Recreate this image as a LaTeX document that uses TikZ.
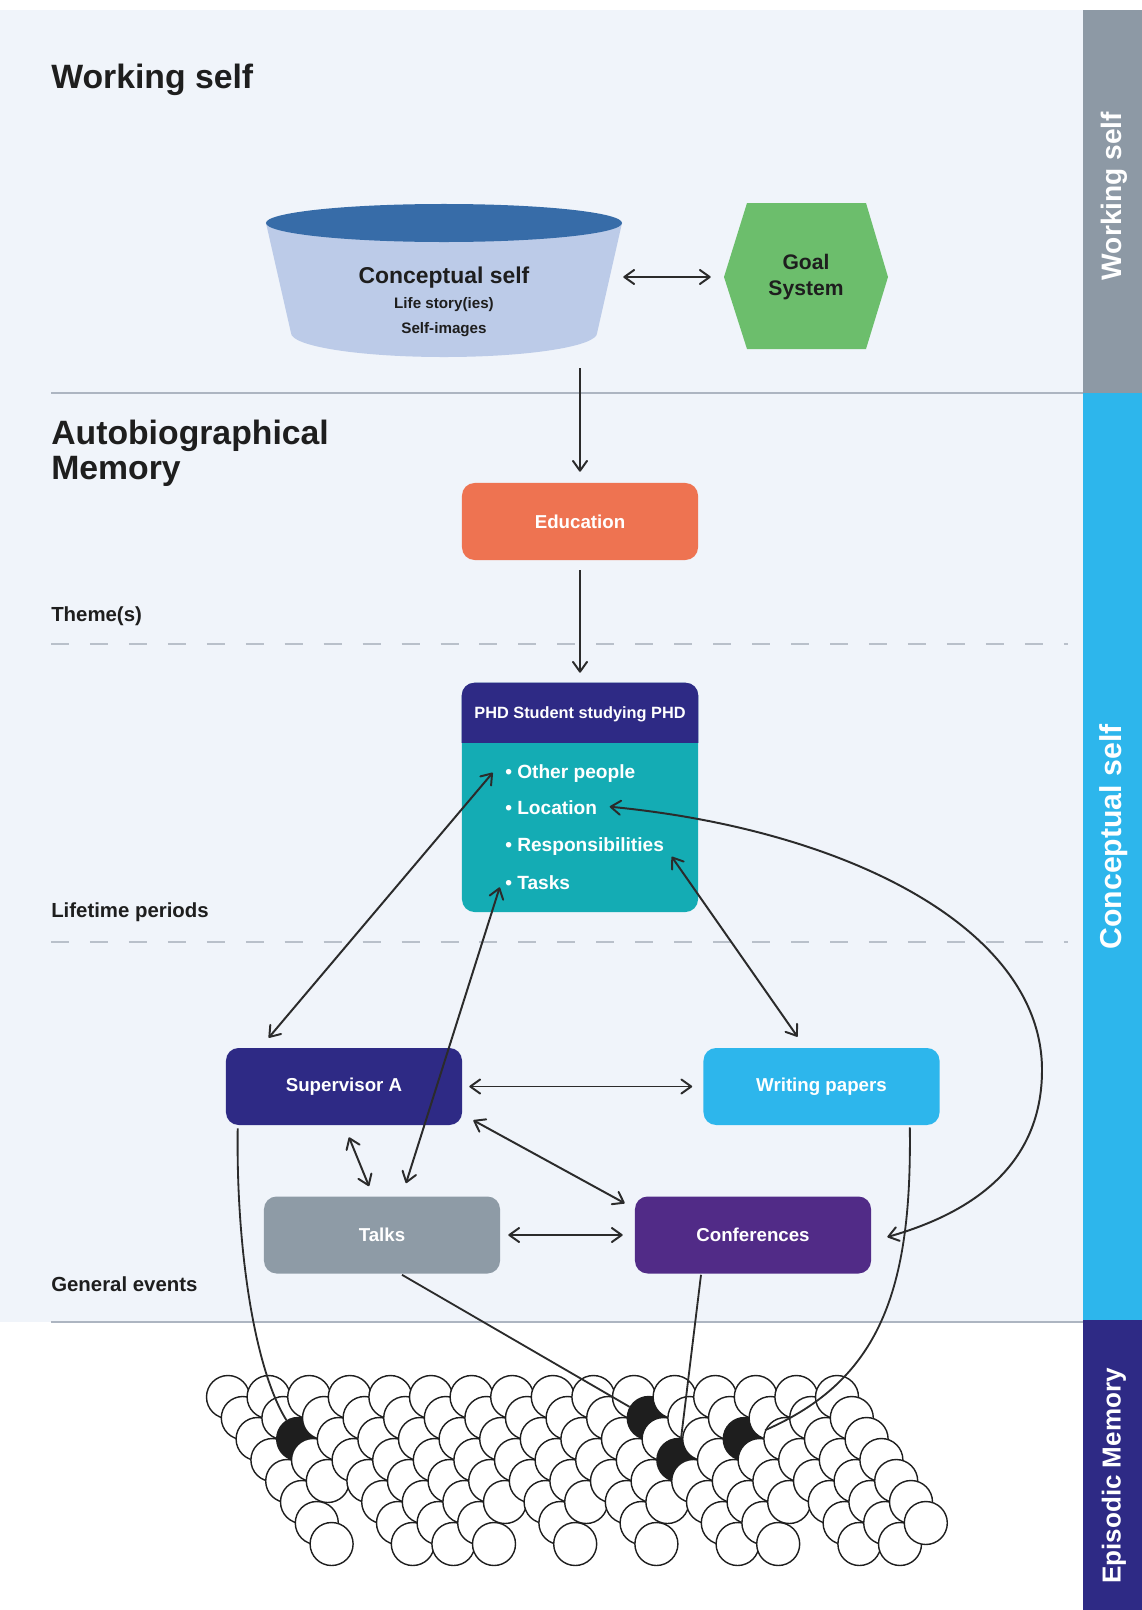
\documentclass[tikz,border=0pt]{standalone}
\usepackage{fontspec}
\setmainfont{Liberation Sans}
\usetikzlibrary{arrows.meta,calc,positioning}
\definecolor{ink}{HTML}{1E1E1E}
\definecolor{wire}{HTML}{2B2B2B}
\definecolor{bgblue}{HTML}{F0F4FA}
\definecolor{linegray}{HTML}{ADB5C1}
\definecolor{dashgray}{HTML}{B9C0CA}
\definecolor{sidegray}{HTML}{8D99A5}
\definecolor{cyanc}{HTML}{2DB6EC}
\definecolor{navyc}{HTML}{2E2A85}
\definecolor{purplec}{HTML}{512B87}
\definecolor{grayc}{HTML}{8E9BA6}
\definecolor{tealc}{HTML}{14ACB4}
\definecolor{coral}{HTML}{EE7351}
\definecolor{cyltop}{HTML}{376CA8}
\definecolor{cylbody}{HTML}{BCCBE8}
\definecolor{goalgreen}{HTML}{6CBE6C}

\begin{document}
\begin{tikzpicture}[x=0.025cm,y=-0.025cm,
  >={Straight Barb[length=7pt,width=10pt,round]},
  arr/.style={line width=1.4pt,draw=wire,->},
  biarr/.style={line width=1.4pt,draw=wire,<->},
  link/.style={line width=1.3pt,draw=wire},
  box/.style={rectangle,rounded corners=9pt,minimum width=5.9cm,minimum height=1.925cm,text=white,font=\fontsize{13.3}{13.3}\selectfont\bfseries},
  heading/.style={anchor=base west,inner sep=0pt,text=ink,font=\fontsize{24}{24}\selectfont\bfseries},
  rowlabel/.style={anchor=base west,inner sep=0pt,text=ink,font=\fontsize{14.5}{14.5}\selectfont\bfseries},
  bulletitem/.style={anchor=base west,inner sep=0pt,text=white,font=\fontsize{13.6}{13.6}\selectfont\bfseries},
  band/.style={rotate=90,inner sep=0pt,text=white},
  egg/.style={circle,draw=ink,line width=1pt,minimum size=1.075cm,inner sep=0pt}]
\useasboundingbox (0,0) rectangle (1142,1610);
\fill[bgblue] (0,10) rectangle (1083,1322);
\fill[sidegray] (1083,10) rectangle (1142,393);
\fill[cyanc] (1083,393) rectangle (1142,1320);
\fill[navyc] (1083,1320) rectangle (1142,1610);
\node[band,font=\fontsize{20}{20}\selectfont\bfseries] (bandws) at (1114,196) {Working self};
\node[band,font=\fontsize{21.5}{21.5}\selectfont\bfseries] (bandcs) at (1114,837) {Conceptual self};
\node[band,font=\fontsize{18.5}{18.5}\selectfont\bfseries] (bandem) at (1114,1476) {Episodic Memory};

\draw[line width=1.8pt,linegray] (51,393) -- (1083,393);
\draw[line width=1.8pt,linegray] (51,1322) -- (1083,1322);
\draw[line width=1.4pt,dashgray,dash pattern=on 12.8pt off 14.9pt] (51,644) -- (1068,644);
\draw[line width=1.4pt,dashgray,dash pattern=on 12.8pt off 14.9pt] (51,942) -- (1068,942);

\node[heading] (wstitle) at (51,89) {Working self};
\node[heading] (abtitle) at (51,444) {Autobiographical};
\node[heading] (abmem) at (51,479) {Memory};
\node[rowlabel] (themes) at (51,621) {Theme(s)};
\node[rowlabel] (periods) at (51,917) {Lifetime periods};
\node[rowlabel] (events) at (51,1291) {General events};

\fill[cylbody] (266,223) -- (291,333) arc[start angle=180,end angle=360,x radius=3.825cm,y radius=0.6cm] -- (622,223) -- cycle;
\fill[cyltop] (444,223) ellipse[x radius=4.45cm,y radius=0.475cm];
\node[minimum width=8.9cm,minimum height=3.85cm] (cself) at (444,277) {};
\node[anchor=base,text=ink,font=\fontsize{16.3}{16.3}\selectfont\bfseries] (cstitle) at (444,283) {Conceptual self};
\node[anchor=base,text=ink,font=\fontsize{10.8}{10.8}\selectfont\bfseries] (csstory) at (444,308) {Life story(ies)};
\node[anchor=base,text=ink,font=\fontsize{10.8}{10.8}\selectfont\bfseries] (csimages) at (444,333) {Self-images};

\fill[goalgreen] (724,277) -- (747,203) -- (866,203) -- (888,277) -- (866,349) -- (747,349) -- cycle;
\node[minimum width=4.1cm,minimum height=3.65cm,align=center,text=ink,font=\fontsize{15}{18.5}\selectfont\bfseries] (goal) at (806,277) {Goal\\System};

\node[box,fill=coral] (edu) at (580,521.5) {Education};

\node[box,fill=tealc,minimum height=5.725cm] (phd) at (580,797.5) {};
\begin{scope}
\clip (455,675) rectangle (705,742);
\fill[navyc,rounded corners=9pt] (phd.north west) rectangle (phd.south east);
\end{scope}
\node[text=white,font=\fontsize{11.6}{11.6}\selectfont\bfseries] (phdhead) at (580,714) {PHD Student studying PHD};
\node[bulletitem] (other) at (505,778) {\textbullet\ Other people};
\node[bulletitem] (loc) at (505,814) {\textbullet\ Location};
\node[bulletitem] (resp) at (505,851) {\textbullet\ Responsibilities};
\node[bulletitem] (tasks) at (505,889) {\textbullet\ Tasks};

\node[box,fill=navyc] (sup) at (344,1086.5) {Supervisor A};
\node[box,fill=cyanc] (wp) at (821.5,1086.5) {Writing papers};
\node[box,fill=grayc] (talks) at (382,1235) {Talks};
\node[box,fill=purplec] (conf) at (753,1235) {Conferences};

\foreach \len [count=\i from 0] in {8,5,8,8,8,6,8,6,8,6,8,8,6,8,8,7} {
  \foreach \k in {1,...,\len} {
    \pgfmathsetmacro{\cx}{228+40.6*\i+14.8*(\k-1)}
    \pgfmathsetmacro{\cy}{1397+21*(\k-1)}
    \pgfmathtruncatemacro{\blk}{(\i==1)*(\k==3)+(\i==10)*(\k==2)+(\i==10)*(\k==4)+(\i==12)*(\k==3)}
    \ifnum\blk=1 \def\eggfill{ink}\else\def\eggfill{white}\fi
    \node[egg,fill=\eggfill] (e\i-\k) at (\cx,\cy) {};
  }
}

\draw[link] ($(sup.south west)+(12,3)$) .. controls (236,1250) and (255,1370) .. (e1-3);
\draw[link] ($(talks.south)+(20,1)$) -- (e10-2);
\draw[link] ($(conf.south)+(-52,1)$) -- (e10-4);
\draw[link] ($(wp.south east)+(-30,2)$) .. controls (912,1290) and (880,1380) .. (e12-3);

\draw[biarr] ($(cself.east)+(1,0)$) -- ($(goal.west)+(-13,0)$);
\draw[arr] ($(cself.south -| edu.north)+(0,14)$) -- ($(edu.north)+(0,-11)$);
\draw[arr] ($(edu.south)+(0,10)$) -- ($(phd.north)+(0,-10)$);
\draw[biarr] ($(sup.north west)+(43,-10)$) -- ($(phd.north west)+(31,90)$);
\draw[biarr] ($(talks.north)+(24,-13)$) -- ($(phd.south west)+(38,-25)$);
\draw[biarr] ($(wp.north)+(-24,-11)$) -- ($(phd.north west)+(210,174)$);
\draw[biarr] ($(phd.north west)+(148,124)$) .. controls (850,830) and (1042,930) .. (1042,1070) .. controls (1042,1170) and (965,1215) .. ($(conf.east)+(16,2)$);
\draw[biarr] ($(sup.east)+(7,0)$) -- ($(wp.west)+(-11,0)$);
\draw[biarr] ($(sup.south east)+(11,-5)$) -- ($(conf.north west)+(-10,7)$);
\draw[biarr] ($(sup.south)+(5,12)$) -- ($(talks.north)+(-13,-10)$);
\draw[biarr] ($(talks.east)+(8,0)$) -- ($(conf.west)+(-12,0)$);
\end{tikzpicture}
\end{document}
